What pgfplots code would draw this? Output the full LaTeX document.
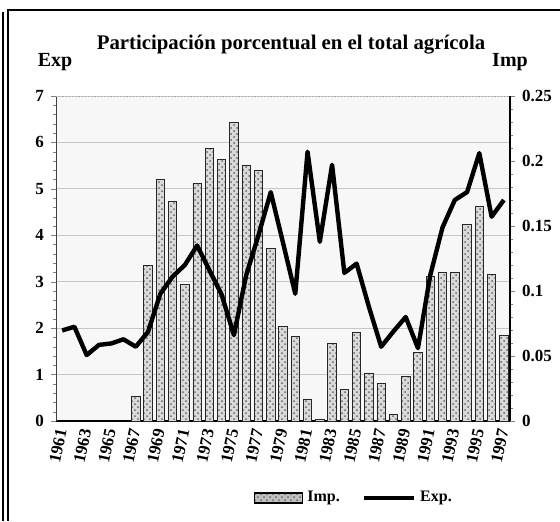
\documentclass[border=0pt]{standalone}
\usepackage{pgfplots}
\pgfplotsset{compat=1.18}
\usetikzlibrary{patterns}
\usepackage{fontspec}
\setmainfont{Liberation Serif}

\tikzset{
  impbar/.style={fill=gray!30, draw=gray!30!black, line width=0.4pt,
    postaction={pattern=crosshatch dots, pattern color=black!60}},
}
\pgfplotsset{
  base/.style={at={(28pt,50pt)}, anchor=south west, scale only axis,
    width=227pt, height=162.5pt, xmin=1960.5, xmax=1997.5,
    tick label style={font=\bfseries\fontsize{8.5}{9}\selectfont},
    /pgf/number format/assume math mode=true,
    /pgf/number format/set thousands separator={}},
}

\begin{document}
\begin{tikzpicture}
\useasboundingbox (0,0) rectangle (280pt,260.5pt);
% outer frame
\draw[line width=0.7pt] (1.5pt,0) -- (1.5pt,254.5pt);
\draw[line width=0.7pt] (4pt,0) -- (4pt,255.5pt) -- (280pt,255.5pt);

% grid, background and left axis (Exp)
\begin{axis}[base, ymin=0, ymax=7,
  axis x line*=bottom, axis y line*=left,
  x axis line style={-, line width=1.4pt},
  y axis line style={-, gray!50!black},
  ytick={0,...,7}, minor y tick num=4, tick align=outside,
  major tick length=2.5pt, minor tick length=1.5pt,
  ymajorgrids, grid style={gray!45, line width=0.4pt},
  xtick={1961,1963,...,1997}, xtick style={draw=none},
  xticklabel style={rotate=78, anchor=east, inner sep=1.5pt},
  axis background/.style={fill=gray!6}]
\draw[gray!70, densely dotted, line width=0.6pt] (rel axis cs:0,1) -- (rel axis cs:1,1);
\end{axis}

% bars, right axis (Imp)
\begin{axis}[base, ymin=0, ymax=0.25,
  axis x line=none, axis y line*=right,
  y axis line style={-, line width=1.2pt},
  ytick={0,0.05,0.1,0.15,0.2,0.25},
  yticklabels={0,0.05,0.1,0.15,0.2,0.25},
  minor y tick num=4, tick align=outside,
  major tick length=2.5pt, minor tick length=1.5pt,
  ybar, bar width=4.2pt]
\addplot[impbar] coordinates {
 (1967,0.019) (1968,0.120) (1969,0.186) (1970,0.169) (1971,0.105)
 (1972,0.183) (1973,0.210) (1974,0.201) (1975,0.230) (1976,0.197)
 (1977,0.193) (1978,0.133) (1979,0.073) (1980,0.065) (1981,0.017)
 (1982,0.0015) (1983,0.060) (1984,0.024) (1985,0.068) (1986,0.037)
 (1987,0.029) (1988,0.005) (1989,0.034) (1990,0.053) (1991,0.111)
 (1992,0.114) (1993,0.114) (1994,0.151) (1995,0.165) (1996,0.113)
 (1997,0.066)};
\end{axis}

% line (Exp) and legend
\begin{axis}[base, ymin=0, ymax=7, axis lines=none,
  legend style={at={(0.658,-0.237)}, anchor=center, draw=none, fill=none,
    legend columns=2, font=\bfseries\fontsize{8}{9}\selectfont,
    nodes={inner xsep=2pt},
    /tikz/every even column/.append style={column sep=9pt}},
  legend cell align=left]
\addlegendimage{legend image code/.code={
  \draw[impbar, fill=gray!50, draw=black, line width=0.8pt] (0pt,-2.4pt) rectangle (24pt,2.4pt);}}
\addlegendentry{Imp.}
\addplot[black, line width=2.2pt, line join=round,
  legend image code/.code={\draw[black, line width=2.2pt] (0pt,0pt) -- (25pt,0pt);}]
 coordinates {
 (1961,1.95) (1962,2.03) (1963,1.42) (1964,1.64) (1965,1.67) (1966,1.76)
 (1967,1.60) (1968,1.92) (1969,2.74) (1970,3.11) (1971,3.36) (1972,3.78)
 (1973,3.25) (1974,2.72) (1975,1.85) (1976,3.14) (1977,4.00) (1978,4.93)
 (1979,3.84) (1980,2.74) (1981,5.80) (1982,3.86) (1983,5.52) (1984,3.19)
 (1985,3.39) (1986,2.46) (1987,1.60) (1988,1.93) (1989,2.24) (1990,1.57)
 (1991,3.14) (1992,4.17) (1993,4.76) (1994,4.93) (1995,5.77) (1996,4.40)
 (1997,4.76)};
\addlegendentry{Exp.}
\end{axis}

\node[font=\bfseries\fontsize{10.4}{12}\selectfont] at (145.5pt,238pt) {Participación porcentual en el total agrícola};
\node[font=\bfseries\fontsize{10}{12}\selectfont] at (27.5pt,229.5pt) {Exp};
\node[font=\bfseries\fontsize{10}{12}\selectfont] at (255pt,229.5pt) {Imp};
\end{tikzpicture}
\end{document}
